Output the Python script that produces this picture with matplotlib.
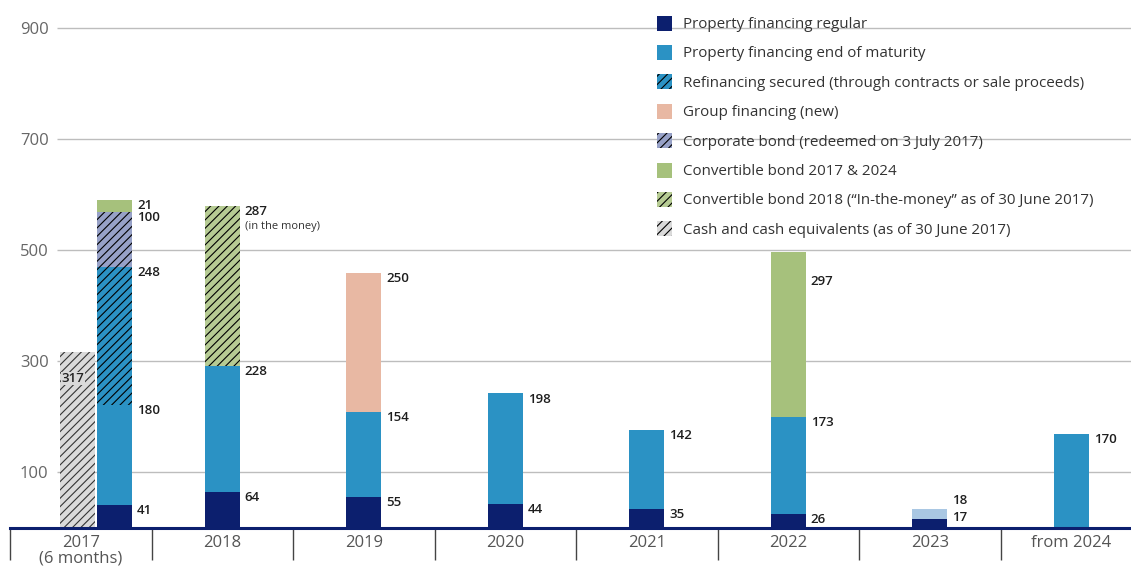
import matplotlib
matplotlib.use("Agg")
import matplotlib.pyplot as plt
from matplotlib.patches import Rectangle
import numpy as np

# ---------------- data ----------------
categories = ["2017\n(6 months)", "2018", "2019", "2020", "2021", "2022", "2023", "from 2024"]
prop_regular = [41, 64, 55, 44, 35, 26, 17, 0]
prop_end_maturity = [180, 228, 154, 198, 142, 173, 0, 170]
prop_end_maturity_2023 = [0, 0, 0, 0, 0, 0, 18, 0]
refinancing_secured = [248, 0, 0, 0, 0, 0, 0, 0]
group_financing = [0, 0, 250, 0, 0, 0, 0, 0]
corporate_bond = [100, 0, 0, 0, 0, 0, 0, 0]
convertible_2018 = [0, 287, 0, 0, 0, 0, 0, 0]
convertible_2017_2024 = [21, 0, 0, 0, 0, 297, 0, 0]
cash_2017 = 317
y_ticks = [100, 300, 500, 700, 900]

legend_labels = [
    "Property financing regular",
    "Property financing end of maturity",
    "Refinancing secured (through contracts or sale proceeds)",
    "Group financing (new)",
    "Corporate bond (redeemed on 3 July 2017)",
    "Convertible bond 2017 & 2024",
    "Convertible bond 2018 (\u201cIn-the-money\u201d as of 30 June 2017)",
    "Cash and cash equivalents (as of 30 June 2017)",
]

# ---------------- style ----------------
NAVY = "#0c1f6e"
BLUE = "#2b92c4"
LIGHTBLUE = "#a9c7e3"
PINK = "#e8b8a3"
LAVENDER = "#97a1c7"
GREEN = "#a6c17c"
GREEN_H = "#b6cb93"
GREY = "#dadada"

plt.rcParams["font.family"] = ["Open Sans", "DejaVu Sans"]
plt.rcParams["hatch.linewidth"] = 0.8

W, H = 1131, 567
fig = plt.figure(figsize=(W / 100, H / 100), dpi=100)
ax_left = 10 / W
ax_right = 1142 / W
ax = fig.add_axes([ax_left, (H - 528) / H, ax_right - ax_left, 528 / H])
ax.set_xlim(-0.5, 7.5)
ax.set_ylim(0, 950)

x = np.arange(len(categories), dtype=float)
offsets = np.zeros(len(categories))
offsets[0] = 0.24
xb = x + offsets
bw = 0.245

HATCH = "////"
series = [
    (prop_regular, NAVY, None),
    (prop_end_maturity, BLUE, None),
    (prop_end_maturity_2023, LIGHTBLUE, None),
    (refinancing_secured, BLUE, HATCH),
    (group_financing, PINK, None),
    (corporate_bond, LAVENDER, HATCH),
    (convertible_2018, GREEN_H, HATCH),
    (convertible_2017_2024, GREEN, None),
]

# gridlines
ax.hlines(y_ticks, -0.165, 7.5, color="#bdbdbd", lw=1.0, zorder=0)

bottom = np.zeros(len(categories))
tops = []
for vals, col, hatch in series:
    vals = np.array(vals, dtype=float)
    ax.bar(xb, vals, width=bw, bottom=bottom, color=col, hatch=hatch,
           edgecolor="black" if hatch else col, linewidth=0, zorder=2)
    tops.append((vals, bottom + vals))
    bottom = bottom + vals

# cash bar
ax.bar([x[0] - 0.025], [cash_2017], width=bw, color=GREY, hatch=HATCH,
       edgecolor="#333333", linewidth=0, zorder=2)
ax.text(x[0] - 0.025 - bw / 2 + 0.012, cash_2017 - 48, str(cash_2017),
        fontsize=9.5, fontweight="semibold", color="#222222", ha="left", va="center",
        bbox=dict(facecolor=GREY, edgecolor="none", pad=0.3), zorder=3)

# value labels
special = {(0, 6): 18, (2, 6): 50, (7, 5): 444}
for si, (vals, top) in enumerate(tops):
    for ci in range(len(categories)):
        if vals[ci] <= 0:
            continue
        if (si, ci) in special:
            ly = special[(si, ci)]
        else:
            ly = top[ci] - 10
        ax.text(xb[ci] + bw / 2 + 0.035, ly, f"{int(vals[ci])}", fontsize=9.5,
                fontweight="semibold", color="#1e1e1e", ha="left", va="center", zorder=3)
ax.text(xb[1] + bw / 2 + 0.035, 570 - 27, "(in the money)", fontsize=8,
        color="#333333", ha="left", va="center")

# axes styling
for s in ["top", "right", "left"]:
    ax.spines[s].set_visible(False)
ax.spines["bottom"].set_color(NAVY)
ax.spines["bottom"].set_linewidth(2.2)
ax.spines["bottom"].set_zorder(4)

ax.set_yticks(y_ticks)
ax.set_yticklabels([str(v) for v in y_ticks])
ax.tick_params(axis="y", length=0, pad=-7.2, labelsize=12, labelcolor="#666666")
for lab in ax.get_yticklabels():
    lab.set_horizontalalignment("left")

ax.set_xticks(x)
ax.set_xticklabels(categories, linespacing=1.0)
ax.set_xticks(np.arange(-0.5, 8.0, 1.0), minor=True)
ax.tick_params(axis="x", which="major", length=0, pad=5, labelsize=12, labelcolor="#555555")
ax.tick_params(axis="x", which="minor", length=23, width=1.0, color="#444444", direction="out")

# legend (manual)
leg_items = [
    (NAVY, None), (BLUE, None), (BLUE, HATCH), (PINK, None),
    (LAVENDER, HATCH), (GREEN, None), (GREEN_H, HATCH), (GREY, HATCH),
]
for i, ((col, hatch), lab) in enumerate(zip(leg_items, legend_labels)):
    yc = 23 + 29.4 * i
    r = Rectangle((657 / W, 1 - (yc + 7.5) / H), 15 / W, 15 / H, transform=fig.transFigure,
                  facecolor=col, hatch=hatch, edgecolor="black" if hatch else col, linewidth=0)
    fig.add_artist(r)
    fig.text(683 / W, 1 - (yc + 1.5) / H, lab, fontsize=10.9, color="#333333",
             ha="left", va="center")

fig.savefig("out.png", dpi=100)
